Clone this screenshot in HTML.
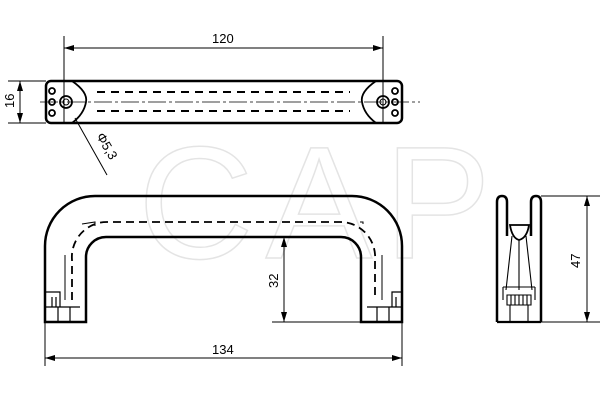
<!DOCTYPE html>
<html><head><style>body{margin:0;background:#fff}svg{display:block}text{font-family:"Liberation Sans",sans-serif;font-size:13px;fill:#000}</style></head><body>
<svg width="600" height="400" viewBox="0 0 600 400" xmlns="http://www.w3.org/2000/svg">
<defs><marker id="a" viewBox="0 0 10 6" refX="10" refY="3" markerWidth="10" markerHeight="6" orient="auto-start-reverse" markerUnits="userSpaceOnUse"><path d="M0,0L10,3L0,6z"/></marker></defs>
<text x="138" y="258" style="font-size:160px;letter-spacing:12px;fill:none;stroke:#e4e4e4;stroke-width:1.5">CAP</text>
<g fill="none" stroke="#000">
<line x1="64" y1="36" x2="64" y2="124" stroke-width="1"/>
<line x1="383" y1="36" x2="383" y2="124" stroke-width="1"/>
<line x1="64" y1="48" x2="383" y2="48" stroke-width="1" marker-start="url(#a)" marker-end="url(#a)"/>
<line x1="8" y1="81" x2="46" y2="81"/><line x1="8" y1="123" x2="46" y2="123"/>
<line x1="20" y1="81" x2="20" y2="123" marker-start="url(#a)" marker-end="url(#a)"/>
<rect x="46" y="81" width="356" height="42" rx="5" stroke-width="2.5"/>
<path d="M72,81 Q88,92 86,102 Q84,114 72,123" stroke-width="1.8"/>
<path d="M376,81 Q360,92 362,102 Q364,114 376,123" stroke-width="1.8"/>
<line x1="40" y1="102" x2="420" y2="102" stroke-width="0.8" stroke-dasharray="18,3,3,3"/>
<line x1="97" y1="92" x2="350" y2="92" stroke-width="2" stroke-dasharray="8,6"/>
<line x1="97" y1="111" x2="350" y2="111" stroke-width="2" stroke-dasharray="8,6"/>
<circle cx="66" cy="102" r="6" stroke-width="1.8"/><circle cx="66" cy="102" r="3"/>
<circle cx="52" cy="91" r="3" stroke-width="1.8"/><circle cx="52" cy="113" r="3" stroke-width="1.8"/><circle cx="52" cy="102" r="3" stroke-width="1.8"/>
<circle cx="383" cy="102" r="6" stroke-width="1.8"/><circle cx="383" cy="102" r="3"/>
<circle cx="395" cy="91" r="3" stroke-width="1.8"/><circle cx="395" cy="113" r="3" stroke-width="1.8"/><circle cx="395" cy="102" r="3" stroke-width="1.8"/>
<line x1="75" y1="118" x2="107" y2="175"/>
<path d="M45,322 L45,246 A50,50 0 0 1 95,196 L352,196 A50,50 0 0 1 402,246 L402,322 L361,322 L361,257 A20,20 0 0 0 341,237 L106,237 A20,20 0 0 0 86,257 L86,322 Z" stroke-width="2.5"/>
<path d="M72,300 L72,260 A35,35 0 0 1 107,222 L340,222 A35,35 0 0 1 375,260 L375,300" stroke-width="1.8" stroke-dasharray="8,5"/>
<path d="M65,300 L65,255 M82,224 L95,222 L95,226" stroke-width="1"/>
<path d="M382,300 L382,255 M363,224 L363,222 L360,222" stroke-width="1"/>
<path d="M45,307 L80,307 M45,292 L60,292 L60,307 M52,297 L52,307 M56,297 L56,307 M58,307 L58,322 M70,307 L70,322" stroke-width="1.2"/>
<path d="M402,307 L367,307 M402,292 L392,292 L392,307 M396,297 L396,307 M389,307 L389,322 M377,307 L377,322" stroke-width="1.2"/>
<line x1="272" y1="322" x2="361" y2="322"/>
<line x1="284" y1="237" x2="284" y2="322" marker-start="url(#a)" marker-end="url(#a)"/>
<line x1="45" y1="322" x2="45" y2="366"/><line x1="402" y1="322" x2="402" y2="366"/>
<line x1="45" y1="358" x2="402" y2="358" marker-start="url(#a)" marker-end="url(#a)"/>
<path d="M497,322 L497,202 Q497,196 502,196 Q507,196 507,202 L507,236 M541,322 L541,202 Q541,196 536,196 Q531,196 531,202 L531,236" stroke-width="2.5"/>
<line x1="497" y1="322" x2="541" y2="322" stroke-width="2.2"/>
<path d="M510,225 L529,225 Q527,238 519,240 Q512,238 510,225 Z" stroke-width="1.8"/>
<path d="M519,240 L519,290 M512,236 L506,290 M526,236 L532,290 M503,287 L535,287 M503,287 L503,300 M535,287 L535,300 M507,295 L531,295 L531,305 L507,305 Z M511,295 L511,305 M515,295 L515,305 M519,295 L519,305 M523,295 L523,305 M527,295 L527,305 M510,305 L510,322 M528,305 L528,322" stroke-width="1.1"/>
<line x1="541" y1="196" x2="600" y2="196"/><line x1="541" y1="322" x2="600" y2="322"/>
<line x1="587" y1="196" x2="587" y2="322" marker-start="url(#a)" marker-end="url(#a)"/>
</g>
<text x="212" y="43">120</text>
<text x="0" y="0" transform="translate(14,108) rotate(-90)">16</text>
<text x="0" y="0" transform="translate(96,136) rotate(60)">Φ5,3</text>
<text x="0" y="0" transform="translate(278,288) rotate(-90)">32</text>
<text x="212" y="354">134</text>
<text x="0" y="0" transform="translate(580,268) rotate(-90)">47</text>
</svg>
</body></html>
